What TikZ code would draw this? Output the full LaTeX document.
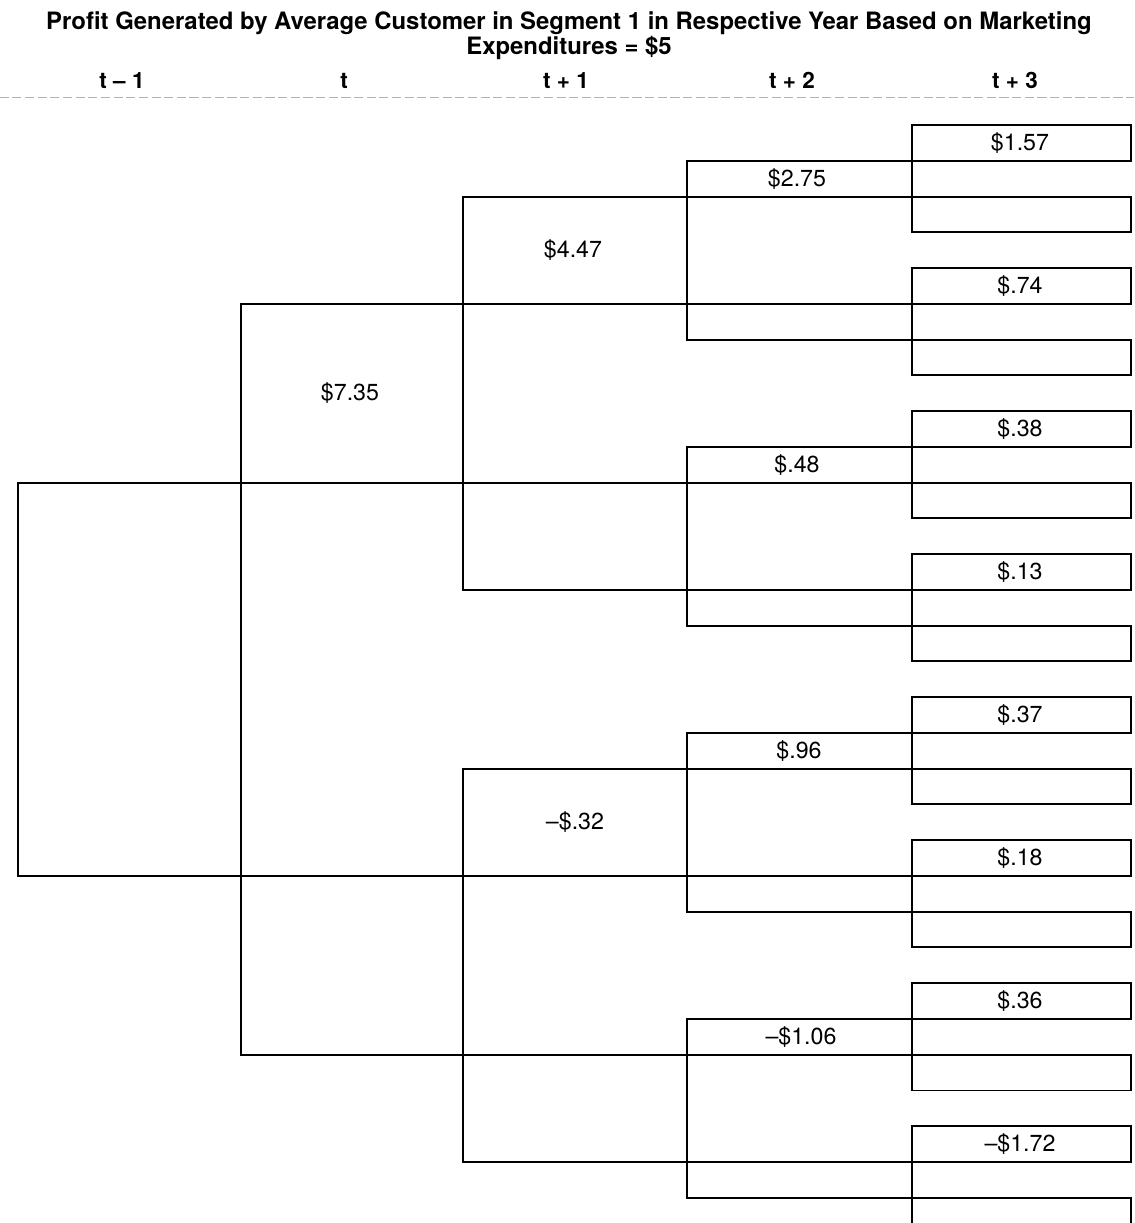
\documentclass[tikz,border=0pt]{standalone}
\usepackage{fontspec}
\setmainfont{TeX Gyre Heros}
\usetikzlibrary{calc, positioning}

\tikzset{
  value/.style={font=\fontsize{16.5}{17}\selectfont, inner sep=0pt},
  colhead/.style={font=\bfseries\fontsize{16}{16}\selectfont, anchor=base, inner sep=0pt},
  titleline/.style={font=\bfseries\fontsize{17}{17}\selectfont, anchor=base, inner sep=0pt}
}

\begin{document}
\begin{tikzpicture}[x=0.025cm, y=-0.025cm, line width=1.4pt, line cap=rect]
            \useasboundingbox (0,0) rectangle (1134,1223);
            \clip (0,0) rectangle (1134,1223);

            % 1. Tiêu đề
            \node[titleline] (title1) at (569,29) {Profit Generated by Average Customer in Segment 1 in Respective Year Based on Marketing};
            \node[titleline] (title2) at (569,54) {Expenditures = \$5};

            % 2. Các cột thời gian
            \foreach \x/\t in {122/{t – 1}, 344/t, 566/{t + 1}, 792/{t + 2}, 1015/{t + 3}} {
                \node[colhead] at (\x,88) {\t};
            }
            \draw[gray!60, line width=0.5pt, dash pattern=on 6pt off 3pt] (0,97) -- (1134,97);

            % 3. Các nhánh (đơn vị dọc = một hàng)
            \begin{scope}[shift={(0,125)}, y=-0.89375cm]
                \foreach \x/\a/\b in {18/10/21, 241/5/26, 463/2/13, 463/18/29,
                                      687/1/6, 687/9/14, 687/17/22, 687/25/30} {
                    \draw (1131,\a) -| (\x,\b) -- (1131,\b);
                }
                \foreach \a in {0,4,...,28} {
                    \draw (1131,\a) -| (912,\a+3) -- (1131,\a+3);
                }
                \foreach \a in {0,2,...,30} {
                    \draw (1131,\a) -- (1131,\a+1);
                }

                % 4. Giá trị lợi nhuận
                \node[value] (p735) at (350,7.5) {\$7.35};
                \node[value] (p447) at (573,3.5) {\$4.47};
                \node[value] (p032) at (575,19.5) {–\$.32};
                \node[value] (p275) at (797,1.5) {\$2.75};
                \node[value] (p048) at (797,9.5) {\$.48};
                \node[value] (p096) at (799,17.5) {\$.96};
                \node[value] (p106) at (801,25.5) {–\$1.06};
                \foreach \r/\v in {0/\$1.57, 4/\$.74, 8/\$.38, 12/\$.13,
                                   16/\$.37, 20/\$.18, 24/\$.36, 28/–\$1.72} {
                    \node[value] at (1020,\r+0.5) {\v};
                }
            \end{scope}
        \end{tikzpicture}
\end{document}
